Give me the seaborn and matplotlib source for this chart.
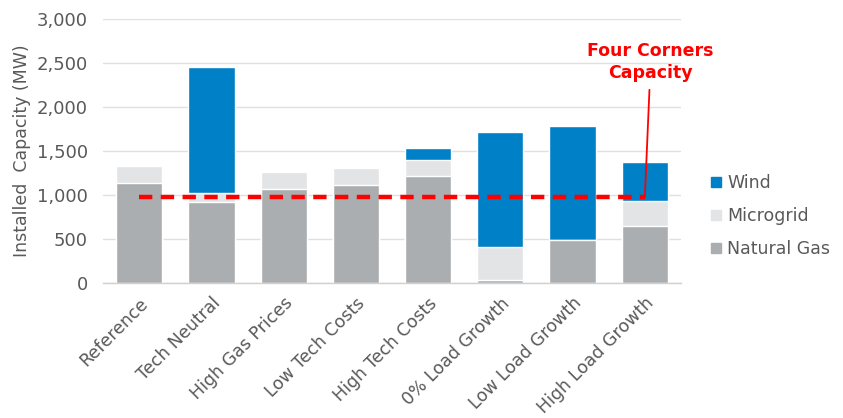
import matplotlib
matplotlib.use("Agg")
import matplotlib.pyplot as plt
import seaborn as sns
import numpy as np
import pandas as pd
from matplotlib.lines import Line2D
from matplotlib.ticker import FuncFormatter, FixedLocator

scenarios = ["Reference", "Tech Neutral", "High Gas Prices", "Low Tech Costs",
             "High Tech Costs", "0% Load Growth", "Low Load Growth", "High Load Growth"]
natural_gas = [1132, 919, 1067, 1109, 1214, 35, 488, 647]
microgrid = [196, 99, 196, 196, 182, 377, 0, 287]
wind = [0, 1430, 0, 0, 133, 1298, 1294, 436]
four_corners = 975
yticks = [0, 500, 1000, 1500, 2000, 2500, 3000]

C_WIND = "#0080C6"
C_MG = "#E3E4E5"
C_NG = "#ABAEB0"
C_TXT = "#595959"
C_RED = "#FF0000"

sns.set_theme(style="white")
plt.rcParams["font.family"] = ["DejaVu Sans"]

df = pd.DataFrame({"Scenario": scenarios, "NG": natural_gas, "MG": microgrid, "Wind": wind})
df["NG_MG"] = df["NG"] + df["MG"]
df["Total"] = df["NG_MG"] + df["Wind"]

fig = plt.figure(figsize=(8.43, 4.18), dpi=100)
ax = fig.add_axes([0.1222, 0.323, 0.6856, 0.6323])

ax.yaxis.grid(True, color="#E0E0E0", linewidth=1.0)
ax.set_axisbelow(True)

w = 0.64
sns.barplot(data=df, x="Scenario", y="Total", color=C_WIND, width=w, saturation=1,
            edgecolor="white", linewidth=1, ax=ax, zorder=2)
sns.barplot(data=df, x="Scenario", y="NG_MG", color=C_MG, width=w, saturation=1,
            edgecolor="white", linewidth=1, ax=ax, zorder=2)
sns.barplot(data=df, x="Scenario", y="NG", color=C_NG, width=w, saturation=1,
            edgecolor="white", linewidth=1, ax=ax, zorder=2)

# Four Corners capacity line
ax.plot([0, len(scenarios) - 1], [four_corners, four_corners], color=C_RED,
        linewidth=3.2, linestyle=(0, (3.0, 1.9)), zorder=4)
ax.annotate("Four Corners\nCapacity", xy=(len(scenarios) - 1, four_corners),
            xytext=(7.08, 2505), textcoords="data", ha="center", va="center",
            color=C_RED, fontweight="bold", fontsize=12.5, linespacing=1.3,
            arrowprops=dict(arrowstyle="-", color=C_RED, lw=1.3, shrinkA=3, shrinkB=0),
            annotation_clip=False, zorder=5)

ax.set_xlim(-0.5, len(scenarios) - 0.5)
ax.set_ylim(0, 3000)
ax.set_yticks(yticks)
ax.yaxis.set_major_formatter(FuncFormatter(lambda v, p: f"{int(v):,}"))
ax.tick_params(axis="y", length=0, labelsize=13, labelcolor=C_TXT, pad=11)

ax.set_xticks(range(len(scenarios)))
ax.set_xticklabels(scenarios, rotation=45, ha="right", rotation_mode="anchor",
                   fontsize=12.5, color=C_TXT)
ax.tick_params(axis="x", which="major", length=0, pad=8)
ax.xaxis.set_minor_locator(FixedLocator(np.arange(-0.5, len(scenarios), 1.0)))
ax.tick_params(axis="x", which="minor", length=5, color="#D0D0D0", width=1, direction="out")

ax.set_xlabel("")
ax.set_ylabel("Installed  Capacity (MW)", fontsize=12.5, color=C_TXT)
ax.yaxis.set_label_coords(-0.125, 0.5)

for s in ["top", "right", "left"]:
    ax.spines[s].set_visible(False)
ax.spines["bottom"].set_color("#D0D0D0")
ax.spines["bottom"].set_linewidth(1)

handles = [Line2D([], [], marker="s", linestyle="", markersize=7, color=c)
           for c in (C_WIND, C_MG, C_NG)]
leg = fig.legend(handles, ["Wind", "Microgrid", "Natural Gas"], loc="center left",
                 bbox_to_anchor=(0.835, 0.483), frameon=False, fontsize=12.5,
                 handlelength=0.6, handletextpad=0.35, labelspacing=0.85, borderaxespad=0)
for t in leg.get_texts():
    t.set_color(C_TXT)

fig.savefig("out.png", dpi=100)
